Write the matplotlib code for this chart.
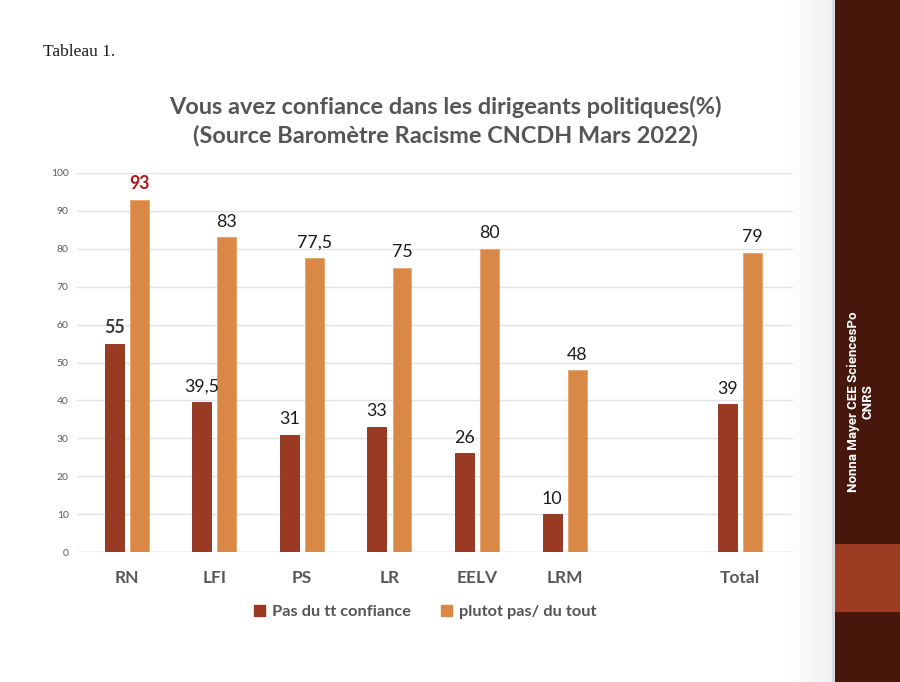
import matplotlib
matplotlib.use("Agg")
import matplotlib.pyplot as plt
from matplotlib.patches import Rectangle, Patch
import numpy as np

categories = ["RN", "LFI", "PS", "LR", "EELV", "LRM", "", "Total"]
pas_du_tt = [55, 39.5, 31, 33, 26, 10, None, 39]
plutot_pas = [93, 83, 77.5, 75, 80, 48, None, 79]
labels_dark = ["55", "39,5", "31", "33", "26", "10", "", "39"]
labels_orange = ["93", "83", "77,5", "75", "80", "48", "", "79"]
yticks = [0, 10, 20, 30, 40, 50, 60, 70, 80, 90, 100]

c_dark = "#9B3A22"
c_orange = "#D98845"
FONT = ["Lato", "DejaVu Sans"]

fig = plt.figure(figsize=(9, 6.82), dpi=100)
fig.patch.set_facecolor("white")

# light gradient near sidebar
grad = np.linspace(0, 1, 100)[None, :]
gax = fig.add_axes([0.875, 0, 0.053, 1])
gax.imshow(grad, aspect="auto", cmap=matplotlib.colors.LinearSegmentedColormap.from_list("g", ["#FFFFFF", "#EEEFF1"]), extent=[0, 1, 0, 1])
gax.axis("off")

ax = fig.add_axes([77/900, 1-552/682, (793-77)/900, (552-173)/682])
ax.set_zorder(2)
ax.patch.set_alpha(0)
x = np.arange(len(categories))
w = 0.217
off = 0.143
for i in range(len(categories)):
    if pas_du_tt[i] is None:
        continue
    ax.bar(x[i]-off, pas_du_tt[i], w, color=c_dark, edgecolor="#8A2E18", linewidth=0.6, zorder=3)
    ax.bar(x[i]+off, plutot_pas[i], w, color=c_orange, edgecolor="#E9A36A", linewidth=0.6, zorder=3)
    if i == 0:
        ax.text(x[i]-off, pas_du_tt[i]+2.0, labels_dark[i], ha="center", va="bottom", fontsize=12.8, fontweight="bold", color="#3A3A3A", family=FONT)
        ax.text(x[i]+off, plutot_pas[i]+2.0, labels_orange[i], ha="center", va="bottom", fontsize=12.8, fontweight="bold", color="#B01A1A", family=FONT)
    else:
        ax.text(x[i]-off, pas_du_tt[i]+2.0, labels_dark[i], ha="center", va="bottom", fontsize=12.8, color="#1A1A1A", family=FONT)
        ax.text(x[i]+off, plutot_pas[i]+2.0, labels_orange[i], ha="center", va="bottom", fontsize=12.8, color="#1A1A1A", family=FONT)

ax.set_xlim(-0.57, 7.61)
ax.set_ylim(0, 100)
ax.set_yticks(yticks)
ax.set_yticklabels([str(t) for t in yticks], fontsize=7.5, color="#595959", family=FONT)
ax.set_xticks(x)
ax.set_xticklabels(categories, fontsize=12.5, fontweight="bold", color="#595959", family=FONT)
ax.tick_params(axis="both", length=0)
ax.tick_params(axis="y", pad=6)
ax.tick_params(axis="x", pad=13)
ax.grid(axis="y", color="#E3E3E3", linewidth=1, zorder=0)
for s in ax.spines.values():
    s.set_visible(False)
ax.axhline(0, color="#D9D9D9", linewidth=1, zorder=1)

fig.text(445/900, 1-107/682, "Vous avez confiance dans les dirigeants politiques(%)", ha="center", va="center",
         fontsize=16.9, fontweight="bold", color="#555555", family=FONT)
fig.text(445/900, 1-136/682, "(Source Baromètre Racisme CNCDH Mars 2022)", ha="center", va="center",
         fontsize=16.9, fontweight="bold", color="#555555", family=FONT)

fig.text(43/900, 1-52/682, "Tableau 1.", ha="left", va="center", fontsize=12.5, color="#1A1A1A",
         family=["Liberation Serif", "DejaVu Serif"])

handles = [Patch(facecolor=c_dark, edgecolor=c_dark), Patch(facecolor=c_orange, edgecolor=c_orange)]
fig.legend(handles, ["Pas du tt confiance", "plutot pas/ du tout"], loc="center", bbox_to_anchor=(425/900, 1-612/682),
           ncol=2, frameon=False, prop={"family": FONT, "weight": "bold", "size": 11.8},
           labelcolor="#555555", handlelength=0.7, handleheight=0.7, handletextpad=0.4, columnspacing=1.8)

# sidebar
fig.patches.append(Rectangle((835/900, 0), 65/900, 1, transform=fig.transFigure, facecolor="#48170C", edgecolor="none", zorder=5))
fig.patches.append(Rectangle((835/900, 1-612/682), 65/900, 68/682, transform=fig.transFigure, facecolor="#9C3B22", edgecolor="none", zorder=6))
fig.patches.append(Rectangle((832/900, 0), 3/900, 1, transform=fig.transFigure, facecolor="#D8D8DA", edgecolor="none", zorder=5))
fig.text(861/900, 1-402/682, "Nonna Mayer CEE SciencesPo\nCNRS", rotation=90, ha="center", va="center", multialignment="center",
         fontsize=9.5, fontweight="bold", color="white", family=["Roboto", "DejaVu Sans"], zorder=7,
         linespacing=1.1)

fig.savefig("out.png", dpi=100)
